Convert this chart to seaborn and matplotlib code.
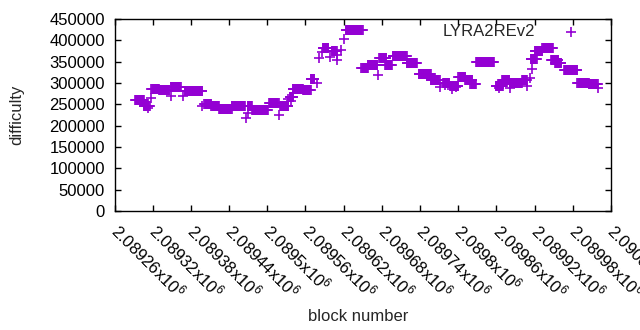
import numpy as np
import pandas as pd
import matplotlib
matplotlib.use('Agg')
import matplotlib.pyplot as plt
import matplotlib.transforms as mtransforms
import seaborn as sns

# runs of consecutive blocks that share one difficulty value
run_first = [2089292, 2089306, 2089318, 2089330, 2089348, 2089370, 2089401, 2089412,
             2089424, 2089444, 2089469, 2089476, 2089503, 2089520, 2089535, 2089540,
             2089556, 2089568, 2089587, 2089601, 2089623, 2089648, 2089658, 2089676,
             2089685, 2089697, 2089719, 2089738, 2089757, 2089776, 2089787, 2089800,
             2089811, 2089819, 2089828, 2089859, 2089869, 2089881, 2089900, 2089914,
             2089920, 2089932, 2089946, 2089952, 2089966, 2089987, 2090005]
run_last = [2089306, 2089315, 2089330, 2089346, 2089364, 2089398, 2089412, 2089424,
            2089444, 2089465, 2089476, 2089501, 2089518, 2089533, 2089541, 2089556,
            2089568, 2089574, 2089596, 2089609, 2089650, 2089658, 2089673, 2089687,
            2089696, 2089719, 2089735, 2089757, 2089771, 2089786, 2089800, 2089811,
            2089822, 2089828, 2089856, 2089870, 2089880, 2089900, 2089908, 2089923,
            2089932, 2089949, 2089957, 2089962, 2089987, 2090005, 2090019]
run_diff = [260000, 246000, 286000, 284000, 291000, 281000, 251000, 245000,
            238000, 245000, 246000, 237000, 252000, 246000, 268000, 287000,
            284000, 310000, 381000, 376000, 425000, 335000, 343000, 358000,
            342000, 364000, 347000, 322000, 307000, 300000, 293000, 314000,
            307000, 298000, 350000, 294000, 308000, 301000, 308000, 357000,
            376000, 381000, 354000, 347000, 330000, 301000, 297000]

# isolated blocks
single_block = [2089312, 2089317, 2089348, 2089367, 2089398, 2089466, 2089469, 2089519,
                2089533, 2089538, 2089578, 2089582, 2089586, 2089598, 2089610, 2089610,
                2089616, 2089621, 2089674, 2089772, 2089779, 2089790, 2089797, 2089864,
                2089881, 2089908, 2089912, 2089916, 2090019]
single_diff = [241000, 266000, 270000, 270000, 247000, 218000, 229000, 226000,
               262000, 258000, 300000, 358000, 372000, 362000, 366000, 354000,
               378000, 404000, 318000, 290000, 296000, 285000, 290000, 288000,
               289000, 293000, 312000, 332000, 288000]

x_ticks = [2089260, 2089320, 2089380, 2089440, 2089500, 2089560, 2089620,
           2089680, 2089740, 2089800, 2089860, 2089920, 2089980, 2090040]
x_tick_labels = ['2.08926', '2.08932', '2.08938', '2.08944', '2.0895', '2.08956', '2.08962',
                 '2.08968', '2.08974', '2.0898', '2.08986', '2.08992', '2.08998', '2.09004']
y_ticks = [0, 50000, 100000, 150000, 200000, 250000, 300000, 350000, 400000, 450000]

blocks = []
diffs = []
for first, last, d in zip(run_first, run_last, run_diff):
    for b in range(first, last + 1):
        blocks.append(b)
        diffs.append(d)
blocks += single_block
diffs += single_diff
df = pd.DataFrame({'block': blocks, 'difficulty': diffs})

sns.set_theme(style='ticks')
plt.rcParams['font.family'] = ['Liberation Sans', 'DejaVu Sans']
plt.rcParams['mathtext.fontset'] = 'custom'
plt.rcParams['mathtext.rm'] = 'Liberation Sans'
plt.rcParams['mathtext.it'] = 'Liberation Sans'

fig = plt.figure(figsize=(6.4, 3.3), dpi=100)
ax = fig.add_axes([114.5 / 640, 1 - 211 / 330, 496.5 / 640, 192 / 330])

sns.scatterplot(data=df, x='block', y='difficulty', marker='+', color='#9400d3',
                s=42, linewidth=1.2, label='LYRA2REv2', ax=ax)

ax.set_xlim(x_ticks[0], x_ticks[-1])
ax.set_ylim(0, 450000)
ax.set_xticks(x_ticks)
ax.set_xticklabels([t + r'x10$^{6}$' for t in x_tick_labels], rotation=-45,
                   ha='left', va='top', rotation_mode='anchor')
ax.set_yticks(y_ticks)
ax.set_yticklabels([str(v) for v in y_ticks])
ax.tick_params(direction='in', length=4, width=1, top=True, right=True,
               labelsize=12, colors='black')
ax.tick_params(axis='y', pad=7)
ax.tick_params(axis='x', pad=9)
for sp in ax.spines.values():
    sp.set_visible(True)
    sp.set_color('black')
    sp.set_linewidth(1)

# nudge the slanted labels so they start right at their tick
shift = mtransforms.ScaledTranslation(7 / 100, 3 / 100, fig.dpi_scale_trans)
for lbl in ax.get_xticklabels():
    lbl.set_transform(lbl.get_transform() + shift)

ax.set_xlabel('block number', fontsize=12)
ax.set_ylabel('difficulty', fontsize=12)
ax.xaxis.set_label_coords((358 - 114.5) / 496.5, (211 - 309) / 192)
ax.yaxis.set_label_coords((24 - 114.5) / 496.5, 0.5)

ax.legend(loc='center right', bbox_to_anchor=((588 - 114.5) / 496.5, (211 - 32) / 192),
          frameon=False, markerfirst=False, fontsize=12, handlelength=2,
          handletextpad=1.2, borderpad=0, borderaxespad=0)

fig.savefig('out.png', dpi=100)
